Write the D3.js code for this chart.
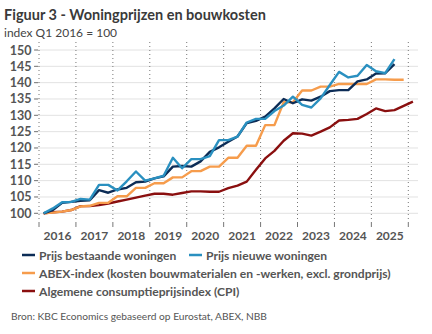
<!DOCTYPE html>
<html>
<head>
<meta charset="utf-8">
<script src="https://cdn.jsdelivr.net/npm/d3@7"></script>
<style>
  body { margin: 0; background: #fff; }
  svg { display: block; font-family: Lato, "Open Sans", sans-serif; }
</style>
</head>
<body>
<div id="chart"></div>
<script>
// quarterly index values, Q1 2016 = 100
const years = [2016, 2017, 2018, 2019, 2020, 2021, 2022, 2023, 2024, 2025];
const yTicks = [100, 105, 110, 115, 120, 125, 130, 135, 140, 145, 150];

const bestaand = [
    100.0, 101.0, 103.2, 103.5,
    103.8, 104.0, 107.1, 106.3,
    107.3, 107.8, 109.5, 109.7,
    110.7, 111.3, 114.3, 114.5,
    114.3, 115.9, 118.8, 120.2,
    121.9, 123.5, 127.6, 128.3,
    129.6, 132.1, 135.0, 133.7,
    134.9, 134.5, 135.7, 137.4,
    137.7, 137.7, 140.4, 141.0,
    142.8, 142.9, 145.7
];
const nieuw = [
    100.0, 101.5, 103.4, 103.5,
    104.4, 104.2, 108.7, 108.7,
    107.0, 109.8, 112.8, 110.0,
    110.7, 111.5, 117.0, 113.8,
    116.6, 116.6, 117.5, 122.4,
    122.4, 123.5, 127.8, 128.9,
    128.9, 131.3, 133.0, 135.7,
    133.2, 132.4, 135.2, 139.3,
    143.3, 141.6, 142.1, 145.4,
    143.5, 142.9, 147.2
];
const abex = [
    100.0, 100.2, 100.5, 101.0,
    102.1, 102.3, 103.2, 103.2,
    105.2, 105.2, 107.8, 107.8,
    109.2, 109.2, 111.0, 111.0,
    112.9, 112.9, 114.3, 114.3,
    117.0, 117.0, 120.7, 120.7,
    127.0, 127.0, 134.0, 134.0,
    137.6, 137.6, 138.8, 138.8,
    139.6, 139.6, 139.6, 139.6,
    141.0, 141.0, 140.9, 140.9
];
const cpi = [
    100.0, 100.3, 100.5, 101.0,
    102.2, 102.2, 102.5, 103.0,
    103.6, 104.2, 104.8, 105.4,
    106.0, 106.0, 105.7, 106.2,
    106.7, 106.7, 106.6, 106.6,
    107.7, 108.5, 109.7, 113.3,
    116.8, 119.1, 122.2, 124.5,
    124.4, 123.8, 125.0, 126.3,
    128.4, 128.6, 128.9, 130.4,
    132.1, 131.3, 131.6, 132.9,
    134.2
];

const series = [
    { name: 'Prijs bestaande woningen', color: '#0c2c56', values: bestaand },
    { name: 'Prijs nieuwe woningen', color: '#2a90c0', values: nieuw },
    { name: 'ABEX-index (kosten bouwmaterialen en -werken, excl. grondprijs)', color: '#f69c4c', values: abex },
    { name: 'Algemene consumptieprijsindex (CPI)', color: '#8a0f0f', values: cpi }
];

const width = 432, height = 334;
const svg = d3.select('#chart').append('svg')
    .attr('width', width)
    .attr('height', height);

// x runs on fractional years, each quarter sits in the middle of its slot
const xScale = d3.scaleLinear().domain([2016, 2026]).range([39, 408.3]);
const yScale = d3.scaleLinear().domain([100, 150]).range([213.3, 50]);
const qx = i => xScale(2016 + (i + 0.5) / 4);

// title
svg.append('text')
    .attr('x', 4).attr('y', 19.5)
    .attr('fill', '#3a3a3a')
    .style('font-size', '14.5px').style('font-weight', 700)
    .text('Figuur 3 - Woningprijzen en bouwkosten');
svg.append('text')
    .attr('x', 4).attr('y', 37)
    .attr('fill', '#444')
    .style('font-size', '12px')
    .text('index Q1 2016 = 100');

// horizontal grid + y labels
const gy = svg.append('g');
gy.selectAll('line.grid').data(yTicks).enter().append('line')
    .attr('class', 'grid')
    .attr('x1', 35).attr('x2', 418)
    .attr('y1', d => yScale(d)).attr('y2', d => yScale(d))
    .attr('stroke', '#e2e2e2').attr('stroke-width', 1);
gy.selectAll('line.tick').data(yTicks).enter().append('line')
    .attr('class', 'tick')
    .attr('x1', 34).attr('x2', 38)
    .attr('y1', d => yScale(d)).attr('y2', d => yScale(d))
    .attr('stroke', '#777').attr('stroke-width', 1);
gy.selectAll('text').data(yTicks).enter().append('text')
    .attr('x', 31.5).attr('y', d => yScale(d) + 4.5)
    .attr('text-anchor', 'end')
    .attr('fill', '#555')
    .style('font-size', '12.5px').style('font-weight', 700)
    .text(d => d);

// dotted year separators, tick marks and year labels
const bounds = d3.range(2016, 2027);
const gx = svg.append('g');
gx.selectAll('line.sep').data(bounds).enter().append('line')
    .attr('class', 'sep')
    .attr('x1', d => xScale(d)).attr('x2', d => xScale(d))
    .attr('y1', 42).attr('y2', 220)
    .attr('stroke', '#777').attr('stroke-width', 1)
    .attr('stroke-dasharray', '1,3');
gx.selectAll('line.tick').data(bounds).enter().append('line')
    .attr('class', 'tick')
    .attr('x1', d => xScale(d)).attr('x2', d => xScale(d))
    .attr('y1', 222).attr('y2', 227)
    .attr('stroke', '#777').attr('stroke-width', 1);
gx.selectAll('text').data(years).enter().append('text')
    .attr('x', d => xScale(d + 0.5)).attr('y', 240)
    .attr('text-anchor', 'middle')
    .attr('fill', '#555')
    .style('font-size', '12px').style('font-weight', 700)
    .text(d => d);

// series lines, CPI drawn first so the house prices sit on top
const line = d3.line()
    .x((d, i) => qx(i))
    .y(d => yScale(d));
const drawOrder = [3, 2, 0, 1];
svg.append('g').selectAll('path').data(drawOrder.map(k => series[k])).enter().append('path')
    .attr('d', d => line(d.values))
    .attr('fill', 'none')
    .attr('stroke', d => d.color)
    .attr('stroke-width', 2.4)
    .attr('stroke-linejoin', 'round');

// legend
const legendPos = [
    { x: 22, y: 255 },
    { x: 189, y: 255 },
    { x: 22, y: 273 },
    { x: 22, y: 291 }
];
const lg = svg.append('g').selectAll('g').data(series).enter().append('g')
    .attr('transform', (d, i) => `translate(${legendPos[i].x},${legendPos[i].y})`);
lg.append('line')
    .attr('x1', 0).attr('x2', 13).attr('y1', 0).attr('y2', 0)
    .attr('stroke', d => d.color).attr('stroke-width', 2.5);
lg.append('text')
    .attr('x', 17).attr('y', 4.5)
    .attr('fill', '#555')
    .style('font-size', '12.1px').style('font-weight', 700)
    .text(d => d.name);

svg.append('text')
    .attr('x', 11).attr('y', 320)
    .attr('fill', '#555')
    .style('font-size', '10.2px')
    .text('Bron: KBC Economics gebaseerd op Eurostat, ABEX, NBB');
</script>
</body>
</html>
